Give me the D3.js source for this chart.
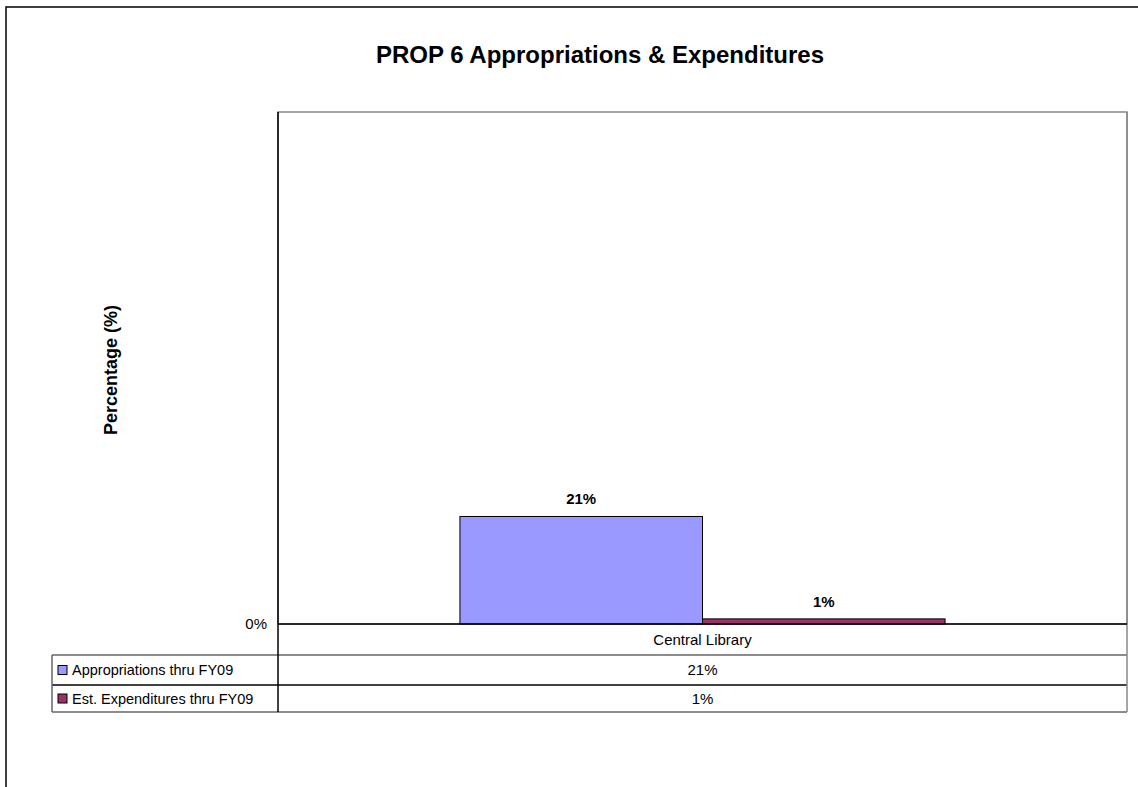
<!DOCTYPE html>
<html>
<head>
<meta charset="utf-8">
<script src="https://cdn.jsdelivr.net/npm/d3@7"></script>
<style>
  body { margin: 0; background: #fff; }
  text { font-family: Arial, "Liberation Sans", sans-serif; }
</style>
</head>
<body>
<div id="container"></div>
<script>
const width = 1138;
const height = 787;

const categories = ["Central Library"];
const seriesNames = ["Appropriations thru FY09", "Est. Expenditures thru FY09"];
const seriesColors = ["#9999ff", "#993366"];
const appropriations = [21];
const expenditures = [1];
const yTicks = [0];

const plot = { left: 278, right: 1127, top: 112, bottom: 624 };
const table = { left: 52, rowH: [31, 30, 27] };

const svg = d3.select("#container")
              .append("svg")
              .attr("width", width)
              .attr("height", height);

// outer frame (runs off the right and bottom)
svg.append("rect")
   .attr("x", 6).attr("y", 7)
   .attr("width", 1200).attr("height", 900)
   .attr("fill", "none").attr("stroke", "#000").attr("stroke-width", 1.5);

svg.append("text")
   .attr("x", 600).attr("y", 63)
   .attr("text-anchor", "middle")
   .style("font-size", "24px").style("font-weight", "bold")
   .text("PROP 6 Appropriations & Expenditures");

const x = d3.scaleBand()
            .domain(categories)
            .range([plot.left, plot.right])
            .paddingInner(0).paddingOuter(0);
const x1 = d3.scaleBand()
             .domain(seriesNames)
             .range([0, x.bandwidth()])
             .paddingInner(0).paddingOuter(0.75);
const y = d3.scaleLinear()
            .domain([0, 100])
            .range([plot.bottom, plot.top]);

// plot area border
svg.append("rect")
   .attr("x", plot.left).attr("y", plot.top)
   .attr("width", plot.right - plot.left).attr("height", plot.bottom - plot.top)
   .attr("fill", "none").attr("stroke", "#888").attr("stroke-width", 1.5);

const rows = categories.map((c, i) => ({
  cat: c,
  vals: [appropriations[i], expenditures[i]]
}));

const groups = svg.append("g")
                  .selectAll("g")
                  .data(rows)
                  .enter()
                  .append("g")
                  .attr("transform", d => "translate(" + x(d.cat) + ",0)");

groups.selectAll("rect")
      .data(d => d.vals.map((v, j) => ({ name: seriesNames[j], v: v, color: seriesColors[j] })))
      .enter()
      .append("rect")
      .attr("x", d => x1(d.name))
      .attr("y", d => y(d.v))
      .attr("width", x1.bandwidth())
      .attr("height", d => y(0) - y(d.v))
      .attr("fill", d => d.color)
      .attr("stroke", "#000").attr("stroke-width", 1);

groups.selectAll("text")
      .data(d => d.vals.map((v, j) => ({ name: seriesNames[j], v: v })))
      .enter()
      .append("text")
      .attr("x", d => x1(d.name) + x1.bandwidth() / 2)
      .attr("y", d => y(d.v) - 12)
      .attr("text-anchor", "middle")
      .style("font-size", "15px").style("font-weight", "bold")
      .text(d => d.v + "%");

// y axis: only the 0% label, no ticks
svg.append("g")
   .selectAll("text")
   .data(yTicks)
   .enter()
   .append("text")
   .attr("x", plot.left - 11)
   .attr("y", d => y(d) + 5)
   .attr("text-anchor", "end")
   .style("font-size", "15px")
   .text(d => d + "%");

svg.append("text")
   .attr("transform", "translate(117," + 370 + ") rotate(-90)")
   .attr("text-anchor", "middle")
   .style("font-size", "18px").style("font-weight", "bold")
   .text("Percentage (%)");

// data table
const r0 = plot.bottom;
const r1 = r0 + table.rowH[0];
const r2 = r1 + table.rowH[1];
const r3 = r2 + table.rowH[2];

const line = (x1_, y1_, x2_, y2_, col) =>
  svg.append("line")
     .attr("x1", x1_).attr("y1", y1_).attr("x2", x2_).attr("y2", y2_)
     .attr("stroke", col).attr("stroke-width", 1.5);

line(plot.left, r1, plot.right, r1, "#666");
line(table.left, r1, plot.left, r1, "#666");
line(table.left, r2, plot.right, r2, "#000");
line(table.left, r3, plot.right, r3, "#666");
line(table.left, r1, table.left, r3, "#666");
line(plot.right, plot.top, plot.right, r3, "#888");
line(plot.left, plot.top, plot.left, r3, "#000");
line(plot.left, r0, plot.right, r0, "#000");

svg.append("g")
   .selectAll("text")
   .data(categories)
   .enter()
   .append("text")
   .attr("x", d => x(d) + x.bandwidth() / 2)
   .attr("y", r0 + 21)
   .attr("text-anchor", "middle")
   .style("font-size", "15px")
   .text(d => d);

const seriesRows = [
  { name: seriesNames[0], color: seriesColors[0], vals: appropriations, top: r1, bottom: r2 },
  { name: seriesNames[1], color: seriesColors[1], vals: expenditures, top: r2, bottom: r3 }
];

seriesRows.forEach(s => {
  const mid = (s.top + s.bottom) / 2;
  svg.append("rect")
     .attr("x", 58).attr("y", mid - 4.5)
     .attr("width", 9).attr("height", 9)
     .attr("fill", s.color).attr("stroke", "#000").attr("stroke-width", 1);
  svg.append("text")
     .attr("x", 72).attr("y", mid + 5)
     .style("font-size", "14.5px")
     .text(s.name);
  categories.forEach((c, i) => {
    svg.append("text")
       .attr("x", x(c) + x.bandwidth() / 2)
       .attr("y", mid + 5)
       .attr("text-anchor", "middle")
       .style("font-size", "15px")
       .text(s.vals[i] + "%");
  });
});
</script>
</body>
</html>
